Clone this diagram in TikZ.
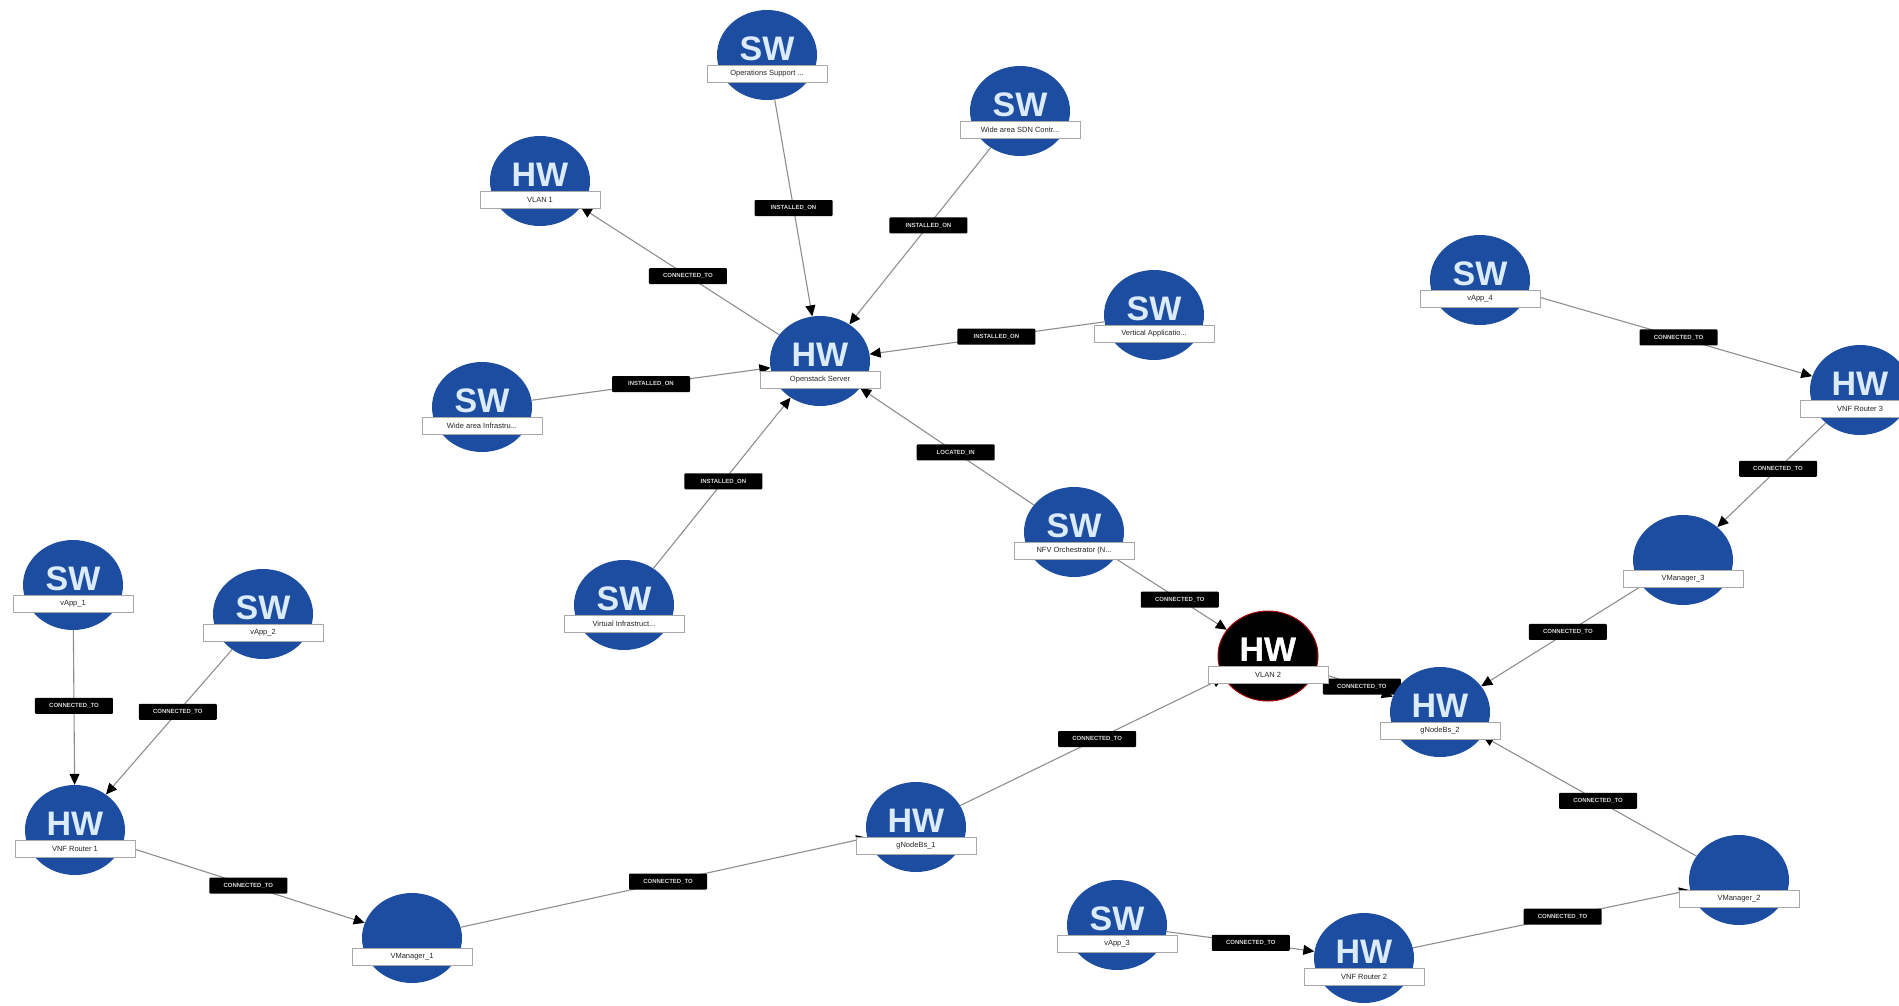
\documentclass[tikz,border=0pt]{standalone}
\usepackage{fontspec}
\setmainfont{Liberation Sans}
\usetikzlibrary{shapes.geometric,arrows.meta}

\definecolor{nodeblue}{HTML}{1C4DA1}
\definecolor{nodetext}{HTML}{DCEBF9}
\definecolor{wire}{HTML}{8E8E8E}
\definecolor{capline}{HTML}{A8A8A8}

\pgfdeclarelayer{paper}
\pgfdeclarelayer{links}
\pgfsetlayers{paper,links,main}

\tikzset{
  disc/.style={ellipse, minimum width=100pt, minimum height=90pt, inner sep=0pt, fill=nodeblue},
  darkdisc/.style={fill=black, draw=red!65!black, line width=1pt},
  kindtext/.style={font=\fontsize{34}{34}\selectfont\bfseries, text=nodetext, inner sep=0pt},
  caption/.style={draw=capline, fill=white, line width=0.9pt, minimum width=120pt,
    minimum height=17pt, inner sep=1pt, font=\fontsize{7.5}{8}\selectfont, text=black!85},
  tag/.style={fill=black, text=white!85!black, font=\fontsize{6}{7}\selectfont\bfseries,
    minimum width=78pt, minimum height=16pt, inner sep=1pt, rounded corners=1pt},
  link/.style={draw=wire, line width=1.1pt,
    -{Triangle[length=11pt,width=10pt,color=black]}},
}

% \entity{name}{x}{y}{kind}{caption}{extra disc style}
\newcommand\entity[6]{%
  \node[disc,#6] (#1) at (#2,#3) {};
  \node[kindtext] (#1-k) at (#2,#3-6) {#4};
  \node[caption] (#1-c) at (#2,#3+19) {#5};
}

\begin{document}
\begin{tikzpicture}[x=1pt,y=-1pt]
  \begin{pgfonlayer}{paper}
    \fill[white] (0,0) rectangle (1899,1005);
  \end{pgfonlayer}
  \useasboundingbox (0,0) rectangle (1899,1005);

  % central cluster
  \entity{ops}{767}{55}{SW}{Operations Support ...}{}
  \entity{sdn}{1020}{111}{SW}{Wide area SDN Contr...}{}
  \entity{vlan1}{540}{181}{HW}{VLAN 1}{}
  \entity{osrv}{820}{361}{HW}{Openstack Server}{}
  \entity{wainf}{482}{407}{SW}{Wide area Infrastru...}{}
  \entity{vapps}{1154}{315}{SW}{Vertical Applicatio...}{}
  \entity{vinf}{624}{605}{SW}{Virtual Infrastruct...}{}
  \entity{nfvo}{1074}{532}{SW}{NFV Orchestrator (N...}{}
  \entity{vlan2}{1268}{656}{HW}{VLAN 2}{darkdisc}
  \node[kindtext, text=white] at (vlan2-k) {HW};

  % left branch
  \entity{app1}{73}{585}{SW}{vApp\_1}{}
  \entity{app2}{263}{614}{SW}{vApp\_2}{}
  \entity{rt1}{75}{830}{HW}{VNF Router 1}{}
  \entity{vm1}{412}{938}{}{VManager\_1}{}
  \entity{gnb1}{916}{827}{HW}{gNodeBs\_1}{}

  % right branch
  \entity{app4}{1480}{280}{SW}{vApp\_4}{}
  \entity{rt3}{1860}{390}{HW}{VNF Router 3}{}
  \entity{vm3}{1683}{560}{}{VManager\_3}{}
  \entity{gnb2}{1440}{712}{HW}{gNodeBs\_2}{}
  \entity{vm2}{1739}{880}{}{VManager\_2}{}
  \entity{app3}{1117}{925}{SW}{vApp\_3}{}
  \entity{rt2}{1364}{958}{HW}{VNF Router 2}{}

  \begin{pgfonlayer}{links}
    \draw[link] (ops)   -- node[tag,pos=0.50]{INSTALLED\_ON} (osrv);
    \draw[link] (sdn)   -- node[tag,pos=0.44]{INSTALLED\_ON} (osrv);
    \draw[link] (osrv)  -- node[tag,pos=0.46]{CONNECTED\_TO} (vlan1);
    \draw[link] (wainf) -- node[tag,pos=0.50]{INSTALLED\_ON} (osrv);
    \draw[link] (vapps) -- node[tag,pos=0.46]{INSTALLED\_ON} (osrv);
    \draw[link] (vinf)  -- node[tag,pos=0.51]{INSTALLED\_ON} (osrv);
    \draw[link] (nfvo)  -- node[tag,pos=0.45]{LOCATED\_IN} (osrv);
    \draw[link] (nfvo)  -- node[tag,pos=0.58]{CONNECTED\_TO} (vlan2);
    \draw[link] (vlan2) -- node[tag,pos=0.60]{CONNECTED\_TO} (gnb2);
    \draw[link] (gnb1)  -- node[tag,pos=0.52]{CONNECTED\_TO} (vlan2);
    \draw[link] (vm1)   -- node[tag,pos=0.51]{CONNECTED\_TO} (gnb1);
    \draw[link] (rt1)   -- node[tag,pos=0.52]{CONNECTED\_TO} (vm1);
    \draw[link] (app1)  -- node[tag,pos=0.49]{CONNECTED\_TO} (rt1);
    \draw[link] (app2)  -- node[tag,pos=0.43]{CONNECTED\_TO} (rt1);
    \draw[link] (app4)  -- node[tag,pos=0.53]{CONNECTED\_TO} (rt3);
    \draw[link] (rt3)   -- node[tag,pos=0.44]{CONNECTED\_TO} (vm3);
    \draw[link] (vm3)   -- node[tag,pos=0.46]{CONNECTED\_TO} (gnb2);
    \draw[link] (vm2)   -- node[tag,pos=0.46]{CONNECTED\_TO} (gnb2);
    \draw[link] (app3)  -- node[tag,pos=0.57]{CONNECTED\_TO} (rt2);
    \draw[link] (rt2)   -- node[tag,pos=0.54]{CONNECTED\_TO} (vm2);
  \end{pgfonlayer}
\end{tikzpicture}
\end{document}
